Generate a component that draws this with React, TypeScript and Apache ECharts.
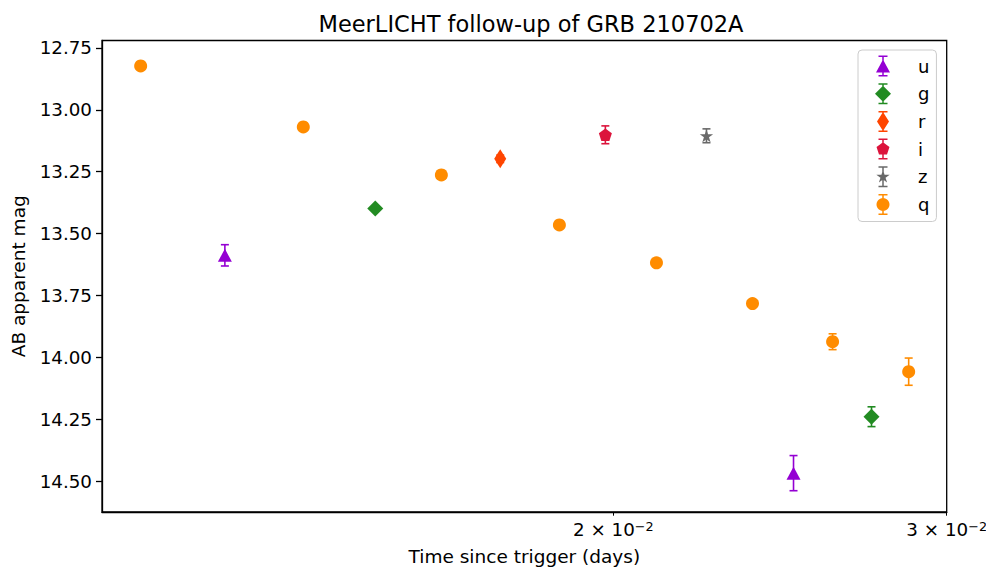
import React, { useEffect, useRef } from "react";
import * as echarts from "echarts";

const FONT = "DejaVu Sans";

// Photometry per band: time since trigger (days), AB magnitude, 1-sigma error
const uTime = [0.012468, 0.0249];
const uMag = [13.588, 14.468];
const uErr = [0.043, 0.071];

const gTime = [0.01497, 0.027378];
const gMag = [13.399, 14.24];
const gErr = [0.01, 0.04];

const rTime = [0.017428];
const rMag = [13.198];
const rErr = [0.015];

const iTime = [0.019806];
const iMag = [13.101];
const iErr = [0.036];

const zTime = [0.022398];
const zMag = [13.105];
const zErr = [0.028];

const qTime = [0.011254, 0.013716, 0.016224, 0.018729, 0.021076, 0.023688, 0.026112, 0.028644];
const qMag = [12.823, 13.069, 13.263, 13.465, 13.618, 13.783, 13.937, 14.058];
const qErr = [0.006, 0.006, 0.008, 0.012, 0.01, 0.012, 0.032, 0.055];

const bandNames = ["u", "g", "r", "i", "z", "q"];
const bandColors = ["#9400D3", "#228B22", "#FF4500", "#DC143C", "#696969", "#FF8C00"];

// Axis ranges and ticks
const xMin = 0.010737;
const xMax = 0.03;
const xTickValues = [0.02, 0.03];
const yMin = 12.72;
const yMax = 14.625;
const yTickValues = [12.75, 13.0, 13.25, 13.5, 13.75, 14.0, 14.25, 14.5];

type Pt = [number, number];

// Polygon helpers (points ordered clockwise on screen so filled sub-paths merge)
function regularPolygon(n: number, rx: number, ry: number): Pt[] {
  const pts: Pt[] = [];
  for (let k = 0; k < n; k++) {
    const a = ((-90 + (360 / n) * k) * Math.PI) / 180;
    pts.push([rx * Math.cos(a), ry * Math.sin(a)]);
  }
  return pts;
}
function starPolygon(rx: number, ry: number, inner: number): Pt[] {
  const pts: Pt[] = [];
  for (let k = 0; k < 10; k++) {
    const a = ((-90 + 36 * k) * Math.PI) / 180;
    const f = k % 2 === 0 ? 1 : inner;
    pts.push([rx * f * Math.cos(a), ry * f * Math.sin(a)]);
  }
  return pts;
}
function diamond(w: number, h: number): Pt[] {
  return [
    [0, -h / 2],
    [w / 2, 0],
    [0, h / 2],
    [-w / 2, 0],
  ];
}
function triangleUp(w: number, h: number): Pt[] {
  return [
    [0, -h / 2],
    [w / 2, h / 2],
    [-w / 2, h / 2],
  ];
}
function rect(x0: number, y0: number, x1: number, y1: number): Pt[] {
  return [
    [x0, y0],
    [x1, y0],
    [x1, y1],
    [x0, y1],
  ];
}
function polyPath(pts: Pt[]): string {
  return "M" + pts.map((p) => p[0].toFixed(3) + " " + p[1].toFixed(3)).join(" L") + " Z";
}

// Marker shapes (pixel sizes)
const markerShapes: Pt[][] = [
  triangleUp(14, 13),
  diamond(16, 16),
  diamond(12, 19),
  regularPolygon(5, 6.8, 6.8),
  starPolygon(7, 7, 0.382),
  regularPolygon(28, 6.5, 6.5),
];
const scatterSymbols = [
  "triangle",
  "diamond",
  "diamond",
  "path://" + polyPath(regularPolygon(5, 1, 1)),
  "path://" + polyPath(starPolygon(1, 1, 0.382)),
  "circle",
];
const scatterSizes: (number | number[])[] = [[14, 13], [16, 16], [12, 19], [13, 12.4], [13.3, 12.7], 13];

// Legend handle: marker with an error bar and caps, inside a fixed 45x22 box
function legendIcon(marker: Pt[]): string {
  const parts = [
    "M-15 -11 L-15 -11 Z",
    "M30 11 L30 11 Z",
    polyPath(rect(-0.75, -10.5, 0.75, 10.5)),
    polyPath(rect(-4.5, -10.5, 4.5, -9)),
    polyPath(rect(-4.5, 9, 4.5, 10.5)),
    polyPath(marker),
  ];
  return "path://" + parts.join(" ");
}

const bandData: [number[], number[], number[]][] = [
  [uTime, uMag, uErr],
  [gTime, gMag, gErr],
  [rTime, rMag, rErr],
  [iTime, iMag, iErr],
  [zTime, zMag, zErr],
  [qTime, qMag, qErr],
];

function errorBarSeries(name: string, color: string, t: number[], m: number[], e: number[]) {
  return {
    type: "custom",
    name: name + " err",
    silent: true,
    z: 2,
    data: t.map((v, i) => [v, m[i], e[i]]),
    encode: { x: 0, y: 1 },
    renderItem: (_params: any, api: any) => {
      const x = api.value(0);
      const y = api.value(1);
      const err = api.value(2);
      const top = api.coord([x, y - err]);
      const bot = api.coord([x, y + err]);
      const cap = 4;
      const style = { stroke: color, lineWidth: 1.6 };
      return {
        type: "group",
        children: [
          { type: "line", shape: { x1: top[0], y1: top[1], x2: bot[0], y2: bot[1] }, style },
          { type: "line", shape: { x1: top[0] - cap, y1: top[1], x2: top[0] + cap, y2: top[1] }, style },
          { type: "line", shape: { x1: bot[0] - cap, y1: bot[1], x2: bot[0] + cap, y2: bot[1] }, style },
        ],
      };
    },
  };
}

function sciLabel(v: number): string {
  const exp = Math.floor(Math.log10(v) + 1e-9);
  const mant = Math.round(v / Math.pow(10, exp));
  return "{b|" + mant + " × 10}{s|\u2212" + Math.abs(exp) + "}";
}

export default function App() {
  const ref = useRef<HTMLDivElement>(null);

  useEffect(() => {
    if (!ref.current) return;
    const chart = echarts.init(ref.current, undefined, { renderer: "svg" });

    const series: any[] = [];
    bandNames.forEach((name, k) => {
      const [t, m, e] = bandData[k];
      series.push(errorBarSeries(name, bandColors[k], t, m, e));
      series.push({
        type: "scatter",
        name,
        z: 3,
        symbol: scatterSymbols[k],
        symbolSize: scatterSizes[k],
        itemStyle: { color: bandColors[k], opacity: 1 },
        data: t.map((v, i) => [v, m[i]]),
      });
    });

    chart.setOption({
      animation: false,
      backgroundColor: "#ffffff",
      textStyle: { fontFamily: FONT },
      title: {
        text: "MeerLICHT follow-up of GRB 210702A",
        left: 526,
        top: 7,
        textAlign: "center",
        textStyle: { fontFamily: FONT, fontSize: 22.5, fontWeight: "normal", color: "#000" },
      },
      legend: {
        orient: "vertical",
        left: 858,
        top: 50,
        padding: [5, 7, 6, 10],
        itemWidth: 45,
        itemHeight: 22,
        itemGap: 5.7,
        backgroundColor: "rgba(255,255,255,0.8)",
        borderColor: "#cccccc",
        borderWidth: 1,
        borderRadius: 4,
        selectedMode: false,
        textStyle: { fontFamily: FONT, fontSize: 18, color: "#000" },
        data: bandNames.map((name, k) => ({ name, icon: legendIcon(markerShapes[k]) })),
      },
      grid: {
        left: 102,
        right: 39.3,
        top: 40.5,
        bottom: 58,
        show: true,
        borderColor: "#000",
        borderWidth: 1.3,
        containLabel: false,
        outerBoundsMode: "none",
      },
      xAxis: {
        type: "log",
        logBase: 10,
        min: xMin,
        max: xMax,
        name: "Time since trigger (days)",
        nameLocation: "middle",
        nameGap: 35,
        nameTextStyle: { fontFamily: FONT, fontSize: 18.5, color: "#000" },
        axisLine: { show: true, lineStyle: { color: "#000", width: 1.3 } },
        axisTick: { show: true, length: 3.7, customValues: xTickValues, lineStyle: { color: "#000", width: 1 } },
        minorTick: { show: false },
        splitLine: { show: false },
        axisLabel: {
          customValues: xTickValues,
          margin: 8,
          color: "#000",
          formatter: (v: number) => sciLabel(v),
          rich: {
            b: { fontFamily: FONT, fontSize: 18.3, color: "#000" },
            s: { fontFamily: FONT, fontSize: 12.8, color: "#000", verticalAlign: "top" },
          },
        },
      },
      yAxis: {
        type: "value",
        inverse: true,
        min: yMin,
        max: yMax,
        name: "AB apparent mag",
        nameLocation: "middle",
        nameGap: 74,
        nameTextStyle: { fontFamily: FONT, fontSize: 18.5, color: "#000" },
        axisLine: { show: true, lineStyle: { color: "#000", width: 1.3 } },
        axisTick: { show: true, length: 6, customValues: yTickValues, lineStyle: { color: "#000", width: 1.3 } },
        splitLine: { show: false },
        axisLabel: {
          customValues: yTickValues,
          margin: 10,
          fontFamily: FONT,
          fontSize: 18.3,
          color: "#000",
          formatter: (v: number) => v.toFixed(2),
        },
      },
      series,
    });

    return () => chart.dispose();
  }, []);

  return (
    <div
      ref={ref}
      style={{ position: "absolute", left: 0, top: 0, width: 986, height: 570, background: "#fff" }}
    />
  );
}
